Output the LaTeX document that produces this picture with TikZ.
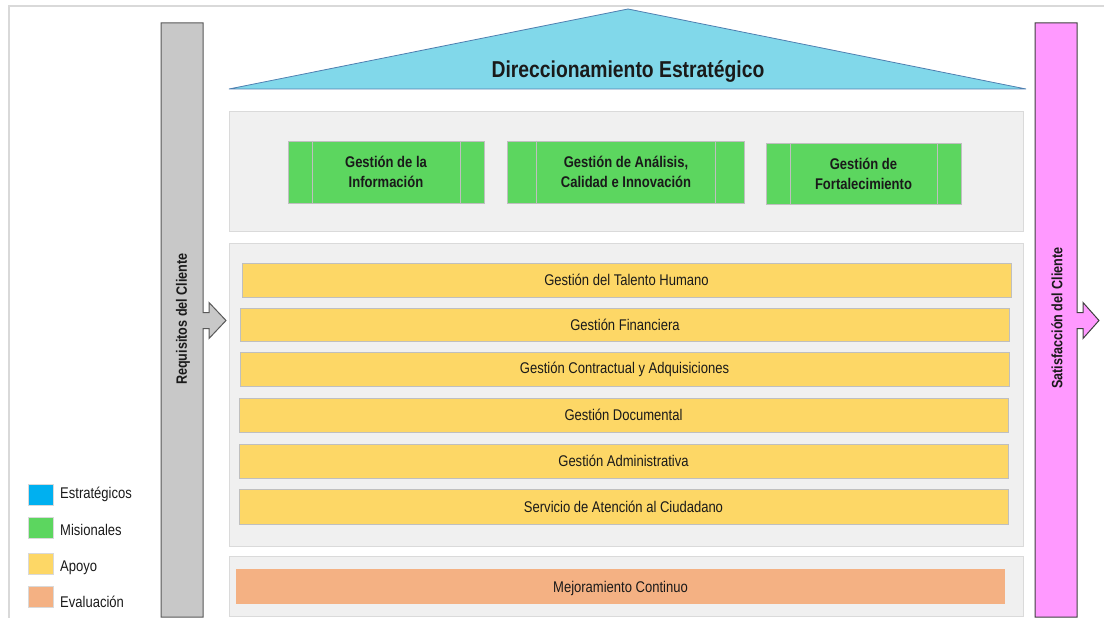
\documentclass[tikz,border=0pt]{standalone}
\usepackage{fontspec}
\setmainfont{Liberation Sans}[FakeStretch=0.84]
\definecolor{frameC}{HTML}{D9D9D9}
\definecolor{panelC}{HTML}{F0F0F0}
\definecolor{panelB}{HTML}{DADADA}
\definecolor{triC}{HTML}{81D8EA}
\definecolor{triB}{HTML}{4F7FB0}
\definecolor{greenC}{HTML}{5CD65F}
\definecolor{yellowC}{HTML}{FDD766}
\definecolor{orangeC}{HTML}{F4B183}
\definecolor{blueC}{HTML}{00B0F0}
\definecolor{pinkC}{HTML}{FF99FF}
\definecolor{grayBar}{HTML}{C8C8C8}
\definecolor{boxB}{HTML}{BFBFBF}
\definecolor{txt}{HTML}{1A1A1A}
\begin{document}
\begin{tikzpicture}[x=1pt,y=-1pt,
  panel/.style={draw=panelB,fill=panelC,line width=1pt,inner sep=0pt},
  ybar/.style={draw=boxB,fill=yellowC,line width=1pt,inner sep=0pt,minimum width=769pt,
    font=\fontsize{15.5}{18}\selectfont,text=txt},
  obar/.style={draw=none,fill=orangeC,inner sep=0pt,minimum width=769pt,
    font=\fontsize{15.5}{18}\selectfont,text=txt},
  gbox/.style={draw=boxB,fill=greenC,line width=1pt,inner sep=0pt,align=center,
    font=\bfseries\fontsize{15.5}{20.5}\selectfont,text=txt},
  legsq/.style={draw=boxB!60,line width=0.6pt,minimum width=25pt,minimum height=21pt,inner sep=0pt},
  legtx/.style={anchor=west,inner sep=0pt,font=\fontsize{15.5}{18}\selectfont,text=txt},
  sidebar/.style={line width=1pt},
  sidelabel/.style={rotate=90,inner sep=0pt,font=\bfseries\fontsize{15}{18}\selectfont,text=txt}
]
\useasboundingbox (0,0) rectangle (1104,618);
% frame
\draw[frameC,line width=2pt] (8.5,618) -- (8.5,6.5) -- (1104,6.5);

% side bars with arrows
\path[sidebar,fill=grayBar,draw=gray!70!black]
  (161,23) -- (203,23) -- (203,312.5) -- (209,312.5) -- (209,302.5) -- (226,320.5)
  -- (209,338.5) -- (209,328.5) -- (203,328.5) -- (203,617) -- (161,617) -- cycle;
\node[sidelabel] (req) at (183,319) {Requisitos del Cliente};

\path[sidebar,fill=pinkC,draw=black!75]
  (1035,23) -- (1077,23) -- (1077,312.5) -- (1083,312.5) -- (1083,302.5) -- (1099,320.5)
  -- (1083,338.5) -- (1083,328.5) -- (1077,328.5) -- (1077,617) -- (1035,617) -- cycle;
\node[sidelabel] (sat) at (1057,318) {Satisfacción del Cliente};

% roof
\path[fill=triC,draw=triB,line width=0.8pt] (229,89) -- (628,9) -- (1026,89) -- cycle;
\node[inner sep=0pt,font=\bfseries\fontsize{23}{26}\selectfont,text=txt] (dir) at (628,72) {Direccionamiento Estratégico};

% panels
\node[panel,minimum width=794pt,minimum height=119pt] (p1) at (626,171.5) {};
\node[panel,minimum width=794pt,minimum height=303pt] (p2) at (626,394.5) {};
\node[panel,minimum width=794pt,minimum height=60.5pt] (p3) at (626,586.25) {};

% misionales
\node[gbox,minimum width=196pt,minimum height=62pt] (g1) at (386,172) {Gestión de la\\Información};
\draw[boxB,line width=1pt] ([xshift=24.5pt]g1.north west) -- ([xshift=24.5pt]g1.south west)
  ([xshift=-24.5pt]g1.north east) -- ([xshift=-24.5pt]g1.south east);
\node[gbox,minimum width=237pt,minimum height=62pt] (g2) at (626,172) {Gestión de Análisis,\\Calidad e Innovación};
\draw[boxB,line width=1pt] ([xshift=29.5pt]g2.north west) -- ([xshift=29.5pt]g2.south west)
  ([xshift=-30pt]g2.north east) -- ([xshift=-30pt]g2.south east);
\node[gbox,minimum width=195pt,minimum height=61pt] (g3) at (863.5,174) {Gestión de\\Fortalecimiento};
\draw[boxB,line width=1pt] ([xshift=24.5pt]g3.north west) -- ([xshift=24.5pt]g3.south west)
  ([xshift=-24.5pt]g3.north east) -- ([xshift=-24.5pt]g3.south east);

% apoyo
\node[ybar,minimum height=34pt] (y1) at (626.5,280) {Gestión del Talento Humano};
\node[ybar,minimum height=33pt] (y2) at (625,324.5) {Gestión Financiera};
\node[ybar,minimum height=34pt] (y3) at (624.5,369) {Gestión Contractual y Adquisiciones};
\node[ybar,minimum height=34pt] (y4) at (623.5,415) {Gestión Documental};
\node[ybar,minimum height=34pt] (y5) at (623.5,461) {Gestión Administrativa};
\node[ybar,minimum height=34.5pt] (y6) at (623.5,506.75) {Servicio de Atención al Ciudadano};

% evaluacion
\node[obar,minimum height=35pt] (o1) at (620.5,586.5) {};
\node[inner sep=0pt,font=\fontsize{15.5}{18}\selectfont,text=txt] (o1t) at (620.5,588) {Mejoramiento Continuo};

% legend
\node[legsq,fill=blueC] (l1) at (40.5,494.7) {};
\node[legtx] (t1) at (60,494.2) {Estratégicos};
\node[legsq,fill=greenC] (l2) at (40.5,528) {};
\node[legtx] (t2) at (60,529.5) {Misionales};
\node[legsq,fill=yellowC] (l3) at (40.5,564) {};
\node[legtx] (t3) at (60,567.5) {Apoyo};
\node[legsq,fill=orangeC] (l4) at (40.5,596.7) {};
\node[legtx] (t4) at (60,601.5) {Evaluación};
\end{tikzpicture}
\end{document}
